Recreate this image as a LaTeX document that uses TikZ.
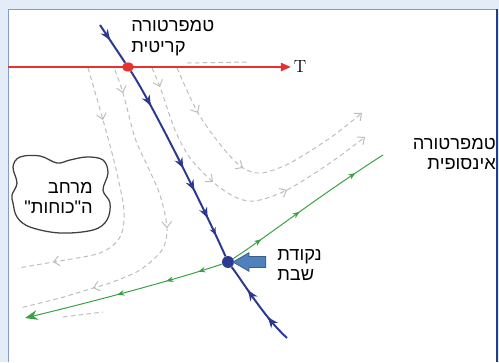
\documentclass[tikz,border=0pt]{standalone}
\usepackage{fontspec}
\newfontfamily\hebfont[Script=Hebrew]{Liberation Sans}
\TeXXeTstate=1
\usetikzlibrary{arrows.meta,shapes.geometric,shapes.arrows}

\definecolor{panelbg}{HTML}{E3ECF7}
\definecolor{framelite}{HTML}{7F9BD2}
\definecolor{framedark}{HTML}{1F3D8C}
\definecolor{critred}{HTML}{E8312F}
\definecolor{flownavy}{HTML}{2B3990}
\definecolor{flowgreen}{HTML}{3AA142}
\definecolor{flowgray}{HTML}{BDBDBD}
\definecolor{pointerfill}{HTML}{4F81BD}
\definecolor{pointerline}{HTML}{385D8A}

\begin{document}
\begin{tikzpicture}[x=0.025cm, y=-0.025cm,
    every node/.style={font=\hebfont\fontsize{13}{14.5}\selectfont, text=black},
    flow/.style={draw=flowgray, line width=0.7pt, dash pattern=on 3.2pt off 2.4pt},
    graytip/.style={draw=flowgray, line width=0.7pt, -{Straight Barb[length=4pt,width=7pt]}},
    navyline/.style={draw=flownavy, line width=1.4pt},
    navytip/.style={draw=flownavy, line width=1.4pt, -{Stealth[length=7.5pt,width=6pt]}},
    greenline/.style={draw=flowgreen, line width=0.7pt},
    greentip/.style={draw=flowgreen, line width=0.7pt, -{Stealth[length=5pt,width=4pt]}}]

  % frame
  \useasboundingbox (0,0) rectangle (499,362);
  \fill[panelbg] (0,0) rectangle (499,362);
  \fill[white] (8,9) rectangle (497,362);
  \draw[framelite, line width=0.6pt] (8,362) -- (8,9) -- (497,9);
  \draw[framedark, line width=1pt] (497,9) -- (497,362);

  % gray flow lines
  \draw[flow] plot[smooth] coordinates
    {(88,68) (103,120) (115,165) (124,210) (120,237) (100,253) (53,262) (18,268)};
  \draw[graytip] (102.46,118.06) -- (103,120);
  \draw[graytip] (54.64,261.7) -- (53,262);
  \draw[flow] plot[smooth] coordinates
    {(115,70) (123,93) (135,138) (147,165) (160,195) (167,228) (162,250) (140,270) (110,283) (93,288) (60,298) (20,308)};
  \draw[graytip] (122.6,91.64) -- (123,93);
  \draw[graytip] (166.96,226.9) -- (167,228);
  \draw[graytip] (94,287.7) -- (93,288);
  \draw[flow, -{Straight Barb[length=4pt,width=7pt]}] plot[smooth] coordinates
    {(152,68) (160,87) (175,130) (190,158) (213,182) (235,197) (255,201) (287,190) (330,163) (365,137)};
  \draw[graytip] (159.54,85.76) -- (160,87);
  \draw[graytip] (212.1,181.22) -- (213,182);
  \draw[graytip] (285.5,190.76) -- (287,190);
  \draw[flow, -{Straight Barb[length=4pt,width=7pt]}] plot[smooth] coordinates
    {(177,68) (198,113) (223,148) (243,168) (262,173) (290,163) (330,138) (362,113)};
  \draw[graytip] (197.08,111.4) -- (198,113);
  \draw[graytip] (242.22,167.5) -- (243,168);
  \draw[flow] (187,63) -- (247,62);
  \draw[flow] (63,317) -- (103,312);

  % temperature axis
  \coordinate (tstart) at (8,67);
  \node[font=\fontsize{12.5}{14}\selectfont, inner sep=2pt] (tlabel) at (300,67) {T};
  \draw[critred, line width=0.8pt, -{Triangle[length=7pt,width=6pt]}] (tstart) -- (tlabel);

  % fixed points
  \node[ellipse, fill=critred, minimum width=8.5pt, minimum height=6.5pt, inner sep=0] (crit) at (128,67) {};
  \node[circle, fill=flownavy, minimum size=8.5pt, inner sep=0] (fixed) at (228,262) {};

  % critical line
  \coordinate (navytop) at (100,25);
  \coordinate (navyend) at (287,338);
  \draw[navyline] (navytop) -- (crit) coordinate[pos=0.36] (nt1) coordinate[pos=0.4] (nt2);
  \draw[navytip] (nt1) -- (nt2);
  \draw[navyline] (crit) .. controls (150,100) and (205,210) .. (fixed)
    coordinate[pos=0.24] (na1) coordinate[pos=0.25] (na2)
    coordinate[pos=0.54] (nb1) coordinate[pos=0.55] (nb2)
    coordinate[pos=0.64] (nc1) coordinate[pos=0.65] (nc2)
    coordinate[pos=0.77] (nd1) coordinate[pos=0.78] (nd2)
    coordinate[pos=0.86] (ne1) coordinate[pos=0.87] (ne2);
  \foreach \a/\b in {na1/na2, nb1/nb2, nc1/nc2, nd1/nd2}
    \draw[navytip] (\a) -- (\b);
  \draw[draw=flownavy, line width=1.4pt, -{Stealth[length=5.5pt,width=4.5pt]}] (ne1) -- (ne2);
  \draw[navyline] (fixed) .. controls (245,285) and (265,318) .. (navyend)
    coordinate[pos=0.36] (nf1) coordinate[pos=0.35] (nf2)
    coordinate[pos=0.71] (ng1) coordinate[pos=0.7] (ng2);
  \draw[navytip] (nf1) -- (nf2);
  \draw[navytip] (ng1) -- (ng2);

  % relevant direction
  \coordinate (greenright) at (383,155);
  \coordinate (greenleft) at (25,318);
  \draw[greenline] (fixed) .. controls (265,238) and (320,195) .. (greenright)
    coordinate[pos=0.24] (ga1) coordinate[pos=0.25] (ga2)
    coordinate[pos=0.51] (gb1) coordinate[pos=0.52] (gb2)
    coordinate[pos=0.84] (gc1) coordinate[pos=0.85] (gc2);
  \draw[greenline, -{Stealth[length=9pt,width=7pt]}] (fixed) .. controls (190,275) and (120,295) .. (greenleft)
    coordinate[pos=0.19] (gd1) coordinate[pos=0.2] (gd2)
    coordinate[pos=0.39] (ge1) coordinate[pos=0.4] (ge2)
    coordinate[pos=0.63] (gf1) coordinate[pos=0.64] (gf2);
  \foreach \a/\b in {ga1/ga2, gb1/gb2, gc1/gc2, gd1/gd2, ge1/ge2, gf1/gf2}
    \draw[greentip] (\a) -- (\b);

  % space of couplings
  \draw[black!75, line width=0.9pt] plot[smooth cycle, tension=0.6] coordinates
    {(13,167) (20,157) (40,156) (57,163) (70,160) (87,157) (103,160) (108,173) (103,190)
     (110,203) (107,220) (93,230) (60,233) (30,227) (17,217) (13,203) (12,195) (17,183)};

  % labels
  \node[align=left, anchor=west, inner sep=0] (critlabel) at (131,38)
    {\beginR טמפרטורה\endR\\\beginR קריטית\endR};
  \node[align=right, anchor=east, inner sep=0] (inflabel) at (496,154)
    {\beginR טמפרטורה\endR\\\beginR אינסופית\endR};
  \node[align=right, anchor=east, inner sep=0] (cloudlabel) at (93,198)
    {\beginR מרחב\endR\\\beginR ה"כוחות"\endR};
  \node[align=left, anchor=west, inner sep=0] (fixedlabel) at (277,265)
    {\beginR נקודת\endR\\\beginR שבת\endR};

  % pointer
  \node[single arrow, shape border rotate=180, fill=pointerfill, draw=pointerline, line width=0.5pt,
        inner sep=3.6pt, minimum height=23.4pt, single arrow head extend=2.8pt,
        single arrow tip angle=60] (pointer) at (254,262) {};
\end{tikzpicture}
\end{document}
